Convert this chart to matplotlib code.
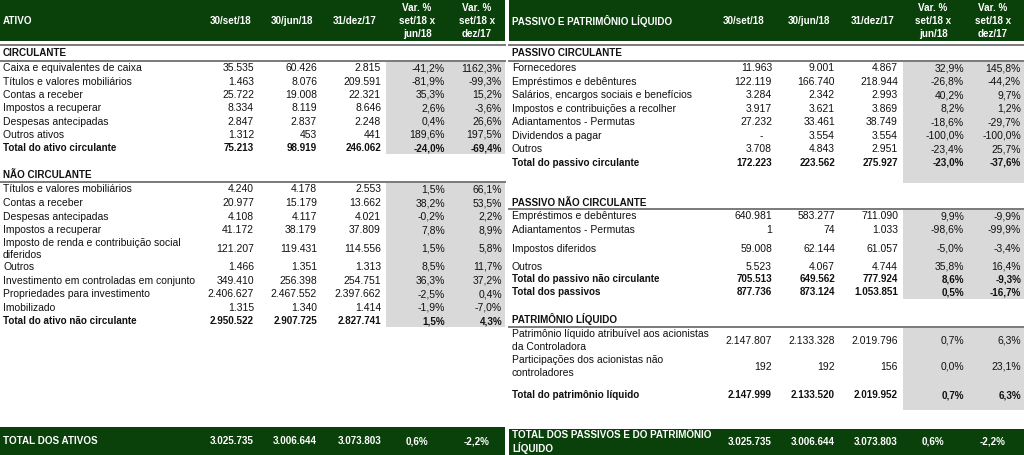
import matplotlib
matplotlib.use("Agg")
import matplotlib.pyplot as plt
from matplotlib.patches import Rectangle

# ---------------- data ----------------
col_headers = ["30/set/18", "30/jun/18", "31/dez/17",
               "Var. %\nset/18 x\njun/18", "Var. %\nset/18 x\ndez/17"]

ac_labels = ["Caixa e equivalentes de caixa", "Títulos e valores mobiliários",
             "Contas a receber", "Impostos a recuperar", "Despesas antecipadas",
             "Outros ativos", "Total do ativo circulante"]
ac_set18 = [35535, 1463, 25722, 8334, 2847, 1312, 75213]
ac_jun18 = [60426, 8076, 19008, 8119, 2837, 453, 98919]
ac_dez17 = [2815, 209591, 22321, 8646, 2248, 441, 246062]
ac_var_jun = [-41.2, -81.9, 35.3, 2.6, 0.4, 189.6, -24.0]
ac_var_dez = [1162.3, -99.3, 15.2, -3.6, 26.6, 197.5, -69.4]

anc_labels = ["Títulos e valores mobiliários", "Contas a receber", "Despesas antecipadas",
              "Impostos a recuperar", "Imposto de renda e contribuição social\ndiferidos",
              "Outros", "Investimento em controladas em conjunto",
              "Propriedades para investimento", "Imobilizado",
              "Total do ativo não circulante"]
anc_set18 = [4240, 20977, 4108, 41172, 121207, 1466, 349410, 2406627, 1315, 2950522]
anc_jun18 = [4178, 15179, 4117, 38179, 119431, 1351, 256398, 2467552, 1340, 2907725]
anc_dez17 = [2553, 13662, 4021, 37809, 114556, 1313, 254751, 2397662, 1414, 2827741]
anc_var_jun = [1.5, 38.2, -0.2, 7.8, 1.5, 8.5, 36.3, -2.5, -1.9, 1.5]
anc_var_dez = [66.1, 53.5, 2.2, 8.9, 5.8, 11.7, 37.2, 0.4, -7.0, 4.3]

pc_labels = ["Fornecedores", "Empréstimos e debêntures",
             "Salários, encargos sociais e benefícios",
             "Impostos e contribuições a recolher", "Adiantamentos - Permutas",
             "Dividendos a pagar", "Outros", "Total do passivo circulante", ""]
pc_set18 = [11963, 122119, 3284, 3917, 27232, None, 3708, 172223, ""]
pc_jun18 = [9001, 166740, 2342, 3621, 33461, 3554, 4843, 223562, ""]
pc_dez17 = [4867, 218944, 2993, 3869, 38749, 3554, 2951, 275927, ""]
pc_var_jun = [32.9, -26.8, 40.2, 8.2, -18.6, -100.0, -23.4, -23.0, ""]
pc_var_dez = [145.8, -44.2, 9.7, 1.2, -29.7, -100.0, 25.7, -37.6, ""]

pnc_labels = ["Empréstimos e debêntures", "Adiantamentos - Permutas",
              "Impostos diferidos", "Outros", "Total do passivo não circulante",
              "Total dos passivos"]
pnc_set18 = [640981, 1, 59008, 5523, 705513, 877736]
pnc_jun18 = [583277, 74, 62144, 4067, 649562, 873124]
pnc_dez17 = [711090, 1033, 61057, 4744, 777924, 1053851]
pnc_var_jun = [9.9, -98.6, -5.0, 35.8, 8.6, 0.5]
pnc_var_dez = [-9.9, -99.9, -3.4, 16.4, -9.3, -16.7]

pl_labels = ["Patrimônio líquido atribuível aos acionistas\nda Controladora",
             "Participações dos acionistas não\ncontroladores",
             "Total do patrimônio líquido"]
pl_set18 = [2147807, 192, 2147999]
pl_jun18 = [2133328, 192, 2133520]
pl_dez17 = [2019796, 156, 2019952]
pl_var_jun = [0.7, 0.0, 0.7]
pl_var_dez = [6.3, 23.1, 6.3]

total_ativos_label = "TOTAL DOS ATIVOS"
total_ativos = [3025735, 3006644, 3073803]
total_ativos_var = [0.6, -2.2]
total_ppl_label = "TOTAL DOS PASSIVOS E DO PATRIMÔNIO\nLÍQUIDO"
total_ppl = [3025735, 3006644, 3073803]
total_ppl_var = [0.6, -2.2]

# ---------------- style ----------------
GREEN = "#0a400a"
GRAY = "#d9d9d9"
LINE = "#7a7a7a"
TXT = "#111111"
FONT = "Liberation Sans"
FS = 7.5
FSB = 7.15

W, H = 1024, 455
fig = plt.figure(figsize=(W / 100, H / 100), dpi=100)
ax = fig.add_axes([0, 0, 1, 1])
ax.set_xlim(0, W)
ax.set_ylim(H, 0)
ax.axis("off")


def fmt_num(v):
    if v is None:
        return "-   "
    if v == "":
        return ""
    return f"{v:,}".replace(",", ".")


def fmt_pct(v):
    if v == "":
        return ""
    return f"{v:.1f}%".replace(".", ",")


def txt(x, y, s, ha="left", bold=False, color=TXT, ls=1.2):
    ax.text(x, y, s, ha=ha, va="center", fontsize=FSB if bold else FS,
            fontweight="bold" if bold else "normal", color=color,
            family=FONT, linespacing=ls)


def header(x0, x1, title, centers, label_x):
    ax.add_patch(Rectangle((x0, 0), x1 - x0, 41, color=GREEN, lw=0))
    txt(label_x, 21, title, bold=True, color="white")
    for cx, h in zip(centers, col_headers):
        txt(cx, 21, h, ha="center", bold=True, color="white", ls=1.35)
    ax.plot([x0, x1], [45, 45], color=LINE, lw=1.4)


def section(x0, x1, label_x, title, title_y, line_y, heights, labels, cols,
            right_edges, gray_x, ls=1.2):
    txt(label_x, title_y, title, bold=True)
    total_h = sum(heights)
    ax.add_patch(Rectangle((gray_x[0], line_y), gray_x[1] - gray_x[0], total_h,
                           color=GRAY, lw=0, zorder=0))
    ax.plot([x0, x1], [line_y, line_y], color=LINE, lw=1.4)
    y = line_y
    for i, (h, lab) in enumerate(zip(heights, labels)):
        cy = y + h / 2 + 0.7
        bold = lab.startswith("Total")
        txt(label_x, cy, lab, bold=bold, ls=ls)
        for j, (edge, col) in enumerate(zip(right_edges, cols)):
            s = fmt_num(col[i]) if j < 3 else fmt_pct(col[i])
            txt(edge, cy, s, ha="right", bold=bold)
        y += h


def footer(x0, x1, y0, label, label_x, vals, vars_, right_edges, centers):
    ax.add_patch(Rectangle((x0, y0), x1 - x0, H - y0, color=GREEN, lw=0))
    cy = (y0 + H) / 2
    txt(label_x, cy, label, bold=True, color="white", ls=1.1)
    for edge, v in zip(right_edges[:3], vals):
        txt(edge, cy, fmt_num(v), ha="right", bold=True, color="white")
    for c, v in zip(centers[3:], vars_):
        txt(c, cy, fmt_pct(v), ha="center", bold=True, color="white")


# ---------- left table ----------
L0, L1 = 0, 505
L_edges = [254, 317, 381, 445, 502]
L_centers = [231, 292, 355, 417, 477]
L_gray = (386, 505)
header(L0, L1, "ATIVO", L_centers, 3)
section(L0, L1, 3, "CIRCULANTE", 53, 61, [13.3] * 7, ac_labels,
        [ac_set18, ac_jun18, ac_dez17, ac_var_jun, ac_var_dez], L_edges, L_gray)
section(L0, L1, 3, "NÃO CIRCULANTE", 175, 182,
        [13.6] * 4 + [23] + [13.6] * 5, anc_labels,
        [anc_set18, anc_jun18, anc_dez17, anc_var_jun, anc_var_dez],
        L_edges, L_gray, ls=1.25)
footer(L0, L1, 427, total_ativos_label, 3, total_ativos, total_ativos_var,
       L_edges, L_centers)

# ---------- right table ----------
R0, R1 = 509, 1024
R_edges = [772, 835, 898, 964, 1021]
R_centers = [744, 809, 873, 933, 993]
R_gray = (903, 1024)
header(R0, R1, "PASSIVO E PATRIMÔNIO LÍQUIDO", R_centers, 512)
section(R0, R1, 512, "PASSIVO CIRCULANTE", 53, 61, [13.5] * 9, pc_labels,
        [pc_set18, pc_jun18, pc_dez17, pc_var_jun, pc_var_dez], R_edges, R_gray)
section(R0, R1, 512, "PASSIVO NÃO CIRCULANTE", 203, 209,
        [13.5, 13.5, 24, 12.5, 12.5, 13.5], pnc_labels,
        [pnc_set18, pnc_jun18, pnc_dez17, pnc_var_jun, pnc_var_dez],
        R_edges, R_gray)
section(R0, R1, 512, "PATRIMÔNIO LÍQUIDO", 319, 327, [26, 26, 31], pl_labels,
        [pl_set18, pl_jun18, pl_dez17, pl_var_jun, pl_var_dez],
        R_edges, R_gray, ls=1.45)
footer(R0, R1, 429, total_ppl_label, 512, total_ppl, total_ppl_var,
       R_edges, R_centers)

fig.savefig("out.png", dpi=100)
